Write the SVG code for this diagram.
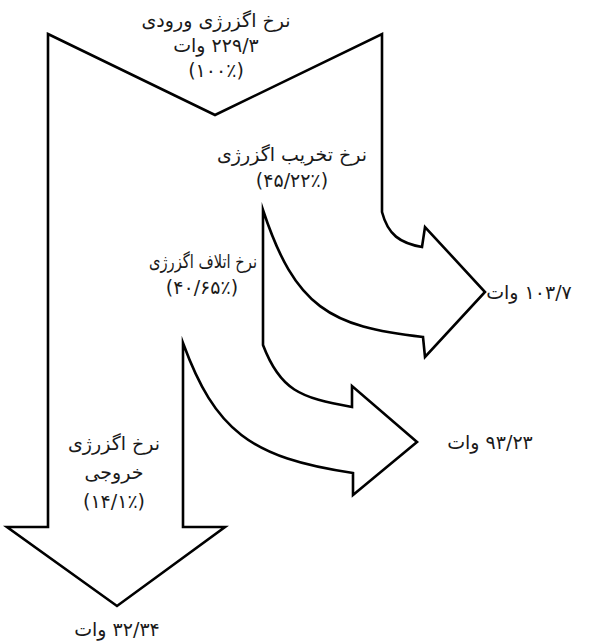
<svg xmlns="http://www.w3.org/2000/svg" width="589" height="641" viewBox="0 0 589 641">
<style>
.flow{fill:#fff;stroke:#000;stroke-width:2.6;stroke-linejoin:miter;stroke-miterlimit:10}
text{font-family:"DejaVu Sans","Noto Sans",sans-serif;font-size:19px;fill:#1a1a1a;text-anchor:middle;direction:rtl}
</style>
<rect width="589" height="641" fill="#fff"/>
<g id="connectors">
<path class="flow" d="M48,34 L215,115 L382,34 L382,212 C388,235 400,243 422,247 L425,227 L485,292 L425,357 L423,337 C330,327 295,307 263,210 L263,345 C280,390 300,398 352,407 L352,386 L417,442 L353,495 L353,473 C250,458 215,430 183,343 L183,527 L225,527 L117,606 L7,527 L48,527 Z"/>
</g>
<g id="input">
<text x="216" y="27">نرخ اگزرژی ورودی</text>
<text x="216" y="52">۲۲۹/۳ وات</text>
<text x="216" y="77">(۱۰۰٪)</text>
</g>
<g id="destruction">
<text x="292" y="161">نرخ تخریب اگزرژی</text>
<text x="292" y="187">(۴۵/۲۲٪)</text>
</g>
<g id="loss">
<text x="203" y="268" textLength="108" lengthAdjust="spacingAndGlyphs">نرخ اتلاف اگزرژی</text>
<text x="202" y="294">(۴۰/۶۵٪)</text>
</g>
<g id="output">
<text x="114" y="450">نرخ اگزرژی</text>
<text x="114" y="479">خروجی</text>
<text x="114" y="508">(۱۴/۱٪)</text>
</g>
<g id="out-destruction">
<text x="529" y="299">۱۰۳/۷ وات</text>
</g>
<g id="out-loss">
<text x="490" y="449">۹۳/۲۳ وات</text>
</g>
<g id="out-output">
<text x="117" y="636">۳۲/۳۴ وات</text>
</g>
</svg>
